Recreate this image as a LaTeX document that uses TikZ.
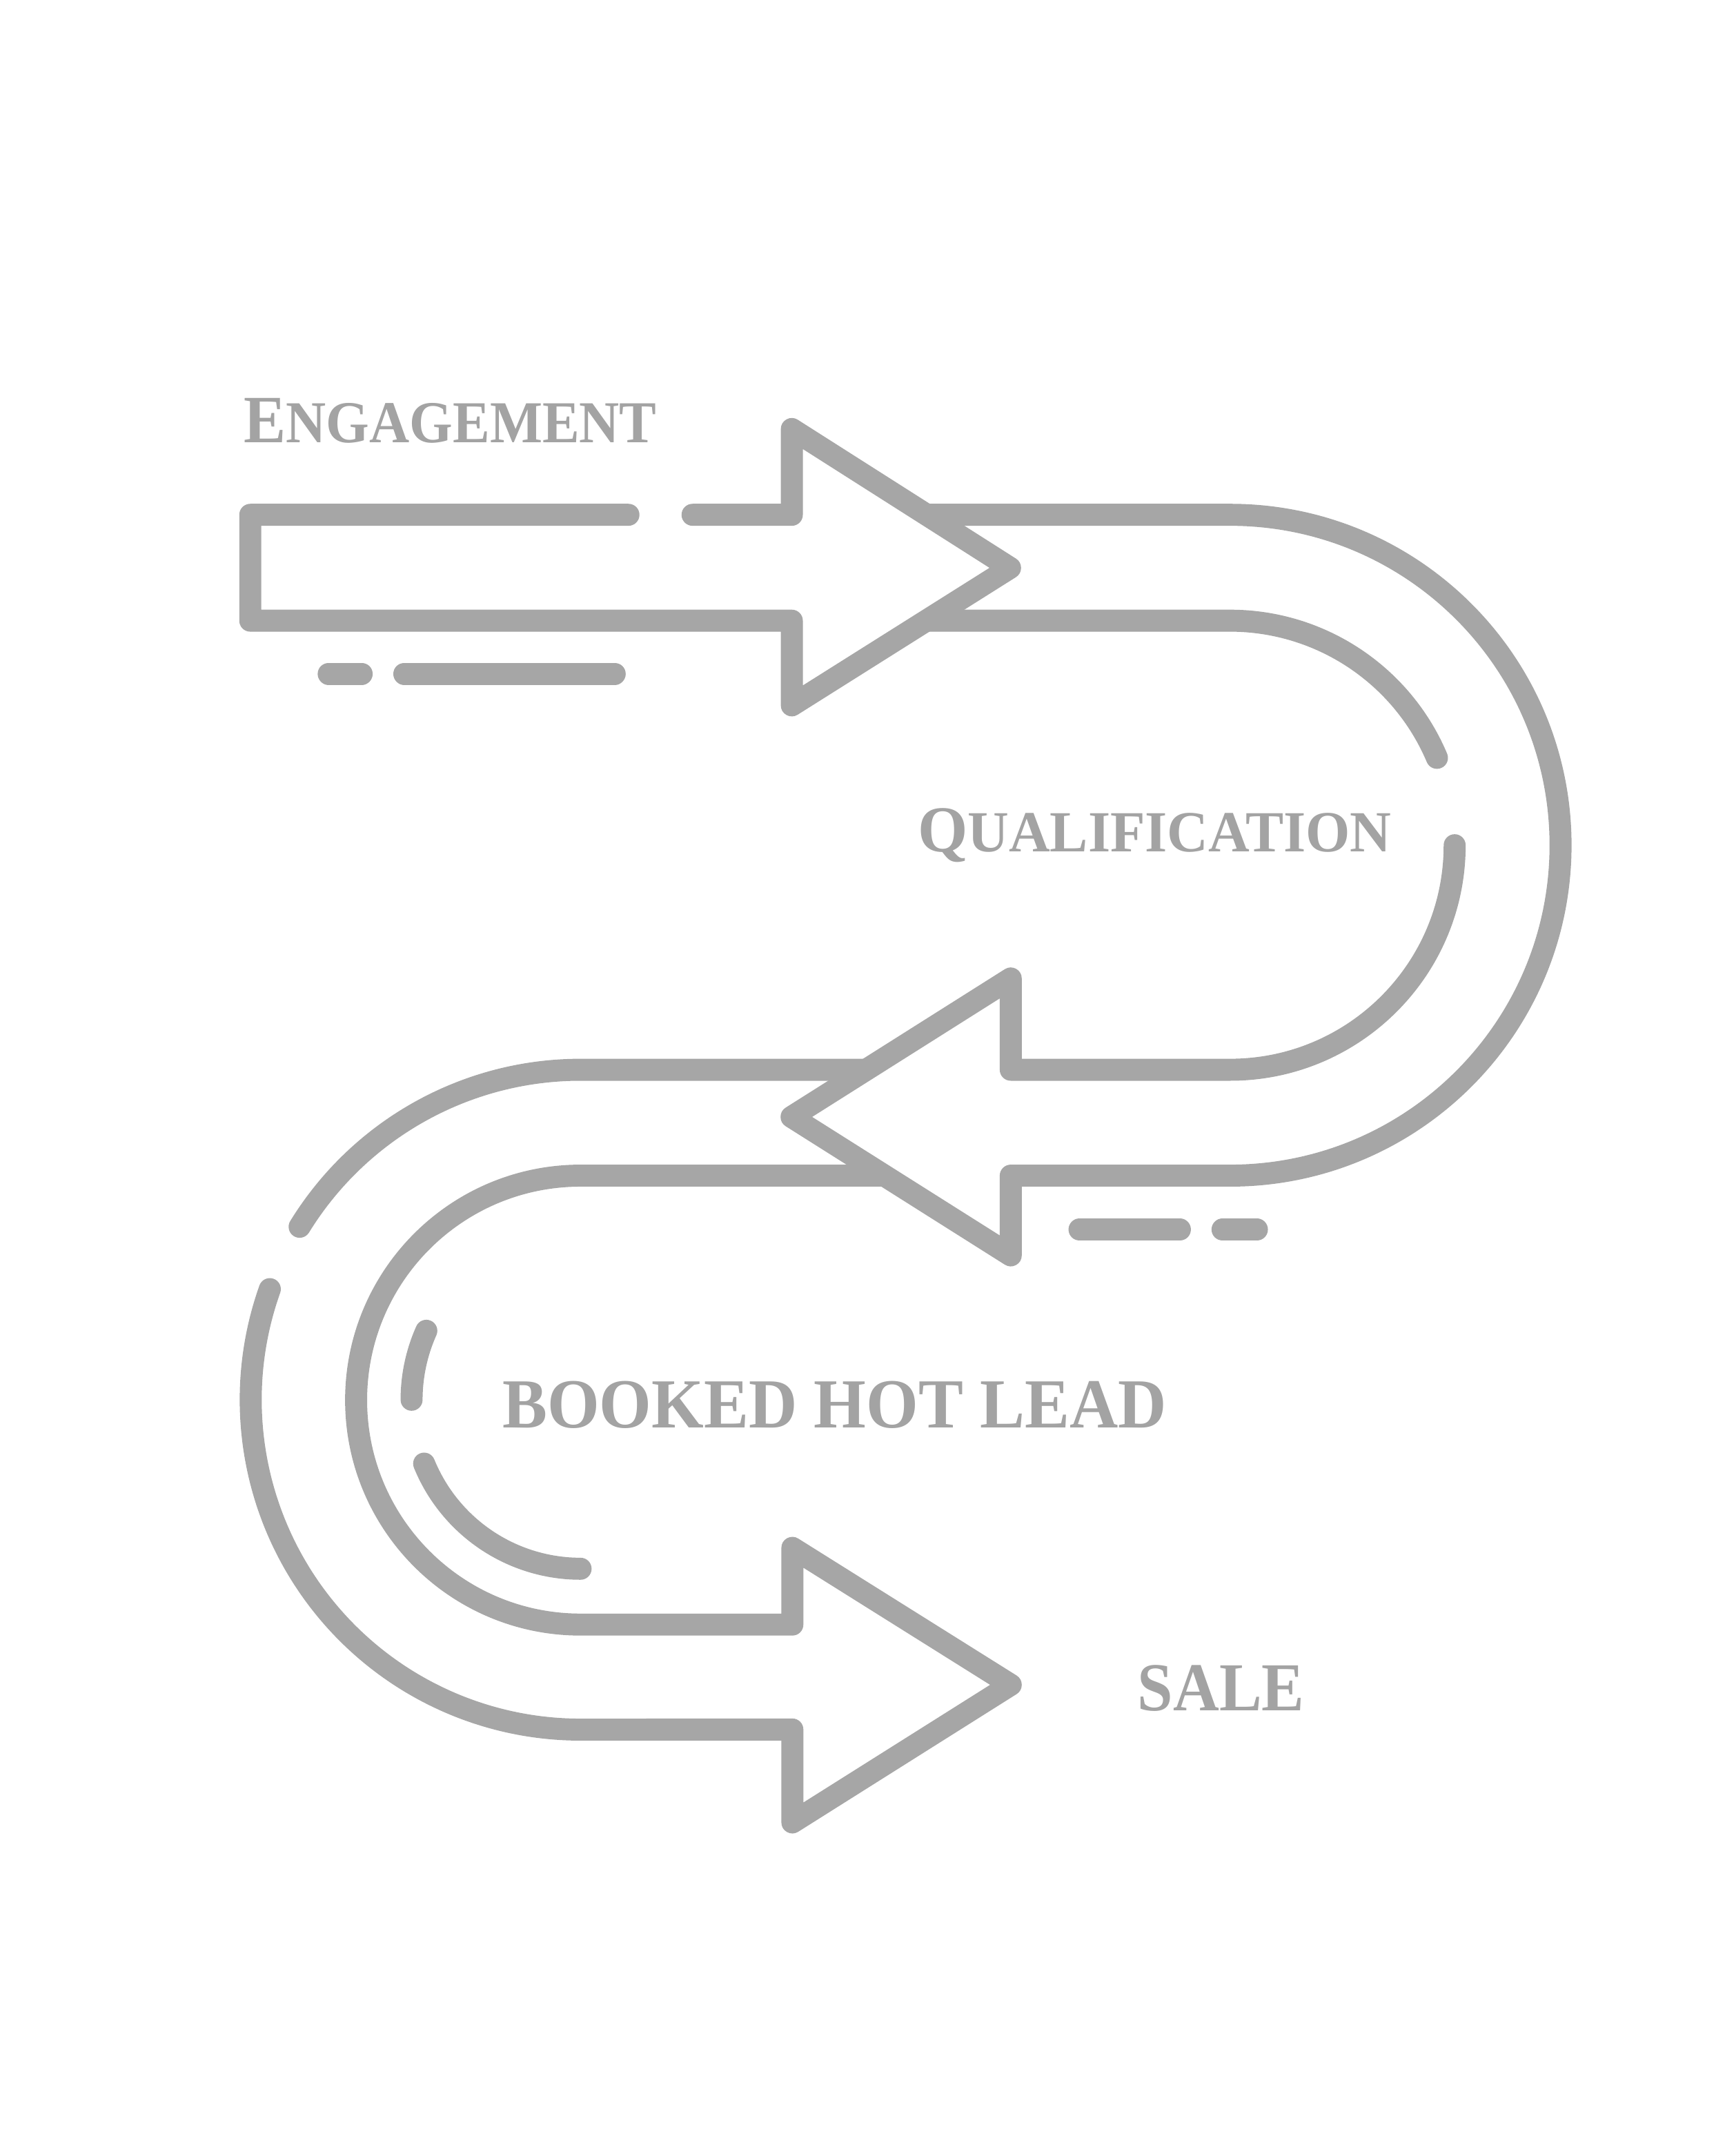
\documentclass[tikz,border=0pt]{standalone}
\usepackage{fontspec}
\setmainfont{Liberation Serif}
\usepackage{graphicx}
\usetikzlibrary{calc}
\definecolor{lineC}{HTML}{A6A6A6}
\definecolor{labC}{HTML}{A3A3A3}
\tikzset{band/.style={draw=lineC,line width=3.2mm,line join=round,line cap=round},
  headfill/.style={fill=white,draw=none},
  stage/.style={font=\bfseries,text=labC,inner sep=0pt,anchor=base west}}
\begin{document}
\begin{tikzpicture}[x=0.2mm,y=-0.2mm]
\useasboundingbox (0,0) rectangle (1254,1568);
\coordinate (cR) at (894.5,614.7);
\coordinate (cL) at (422.2,1018);
% left loop and last arrow
\draw[band] (700,778) -- (422.2,778) arc[start angle=-90,end angle=-148.4,radius=239.9];
\draw[band] ($(cL)+(-160.4:239.9)$) arc[start angle=-160.4,end angle=-270,radius=239.9]
  -- (576.2,1257.8) -- (576.2,1325.4) -- (735,1225.3) -- (576.2,1125.7) -- (576.2,1181.5)
  -- (422.2,1181.5) arc[start angle=90,end angle=270,radius=163.25] -- (700,855);
\draw[band] ($(cL)+(-155.9:122.9)$) arc[start angle=-155.9,end angle=-180,radius=122.9];
\draw[band] ($(cL)+(157.8:122.9)$) arc[start angle=157.8,end angle=90,radius=122.9];
% right loop and middle arrow
\path[headfill] (735,711.6) -- (575.6,812.3) -- (735,913) -- cycle;
\draw[band] (640,374.4) -- (894.5,374.4) arc[start angle=-90,end angle=90,radius=240.3]
  -- (735,855) -- (735,913) -- (575.6,812.3) -- (735,711.6) -- (735,778)
  -- (894.5,778) arc[start angle=90,end angle=0,radius=163.3];
\draw[band] (640,451.4) -- (894.5,451.4) arc[start angle=-90,end angle=-22.9,radius=163.3];
% first arrow
\path[headfill] (575.8,312) -- (734.5,413) -- (575.8,513) -- cycle;
\draw[band] (457,374.4) -- (182,374.4) -- (182,451.4) -- (575.8,451.4) -- (575.8,513)
  -- (734.5,413) -- (575.8,312) -- (575.8,374.4) -- (503.6,374.4);
% dashes
\draw[band] (239,490) -- (263,490);\draw[band] (294,490) -- (447,490);
\draw[band] (785,894.2) -- (858,894.2);\draw[band] (889,894.2) -- (914,894.2);
% stage labels
\node[stage] (eng) at (177,322) {\scalebox{0.935}[1]{{\fontsize{28}{28}\selectfont E}{\fontsize{24.6}{25}\selectfont NGAGEMENT}}};
\node[stage] (qual) at (667,619.5) {\scalebox{0.98}[1]{{\fontsize{27.1}{27}\selectfont Q}{\fontsize{24.1}{24}\selectfont UALIFICATION}}};
\node[stage] (book) at (365,1038.4) {\scalebox{0.955}[1]{\fontsize{29.1}{29}\selectfont BOOKED HOT LEAD}};
\node[stage] (sale) at (827,1244.3) {\scalebox{0.93}[1]{\fontsize{28.4}{28}\selectfont SALE}};
\end{tikzpicture}
\end{document}
